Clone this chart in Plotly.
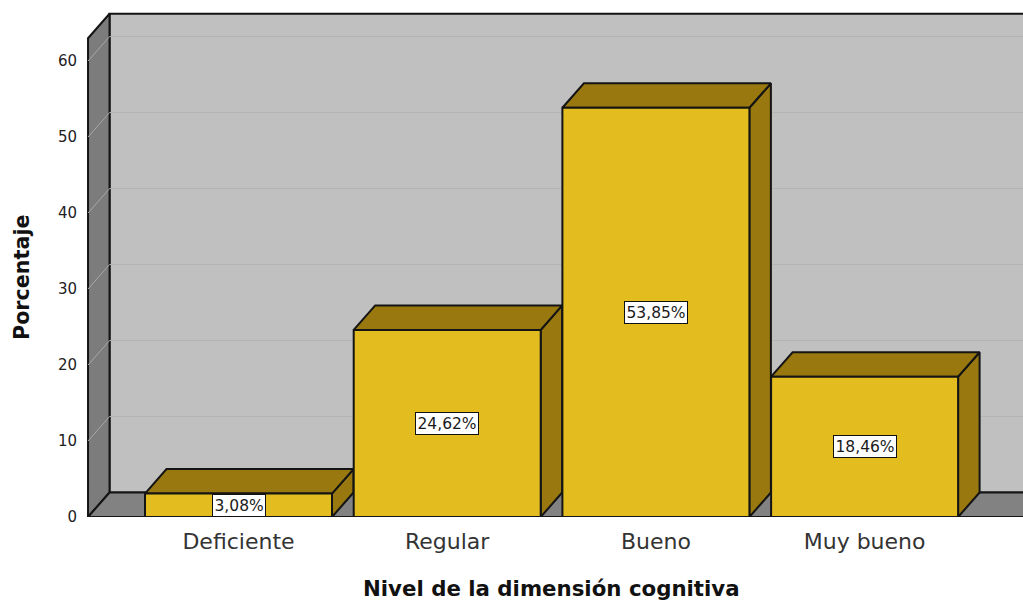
import plotly.graph_objects as go

# Data
categories = ["Deficiente", "Regular", "Bueno", "Muy bueno"]
percentages = [3.08, 24.62, 53.85, 18.46]
y_ticks = [0, 10, 20, 30, 40, 50, 60]

# Geometry of the pseudo-3D frame (axis units)
HALF_W = 0.448        # half width of a bar front face
DX = 0.103            # depth offset along x
DY = 3.22             # depth offset along y
WALL_X = -0.721       # front edge of the left side wall
WALL_TOP = 63.0       # height of the walls (front plane)
FAR_X = 4.2           # walls / floor run past the right edge
X_RANGE = [-0.7595, 3.759]
Y_RANGE = [0, 68.03]

FRONT = "#E3BC1F"
SHADE = "#98780F"
EDGE = "#141414"
FONT = "DejaVu Sans, Liberation Sans, Arial"

# Plot area in pixels (used to place the axis titles)
PL, PR, PB = 80, 1023, 517

fig = go.Figure()


def poly(xs, ys, fill, line_color=EDGE, width=2):
    fig.add_trace(go.Scatter(
        x=xs + [xs[0]], y=ys + [ys[0]], mode="lines", fill="toself",
        fillcolor=fill, line=dict(color=line_color, width=width),
        hoverinfo="skip", showlegend=False))


def seg(xs, ys, color, width=1):
    fig.add_trace(go.Scatter(
        x=xs, y=ys, mode="lines", line=dict(color=color, width=width),
        hoverinfo="skip", showlegend=False))


# Back wall
poly([WALL_X + DX, FAR_X, FAR_X, WALL_X + DX],
     [DY, DY, WALL_TOP + DY, WALL_TOP + DY], "#C0C0C0")
# Left side wall
poly([WALL_X, WALL_X, WALL_X + DX, WALL_X + DX],
     [0, WALL_TOP, WALL_TOP + DY, DY], "#7C7C7C")

# Gridlines on the walls
for t in y_ticks[1:]:
    seg([WALL_X + DX, FAR_X], [t + DY, t + DY], "#B4B4B4", 1)
    seg([WALL_X, WALL_X + DX], [t, t + DY], "#A8A8A8", 1)

# Floor
poly([WALL_X, FAR_X, FAR_X + DX, WALL_X + DX], [0, 0, DY, DY], "#828282")

# Bars: side face, top face, front face
for i, v in enumerate(percentages):
    xl, xr = i - HALF_W, i + HALF_W
    poly([xr, xr + DX, xr + DX, xr], [0, DY, v + DY, v], SHADE)
    poly([xl, xr, xr + DX, xl + DX], [v, v, v + DY, v + DY], SHADE)
    poly([xl, xr, xr, xl], [0, 0, v, v], FRONT)
    fig.add_annotation(
        x=i, y=v / 2, text=f"{v:.2f}%".replace(".", ","), showarrow=False,
        font=dict(family=FONT, size=15.5, color="#1a1a1a"),
        bgcolor="white", bordercolor="#111111", borderwidth=1, borderpad=1.5)

# Axis titles
fig.add_annotation(
    x=(551 - PL) / (PR - PL), y=-(588 - PB) / PB, xref="x domain", yref="y domain",
    text="<b>Nivel de la dimensión cognitiva</b>", showarrow=False,
    xanchor="center", yanchor="middle",
    font=dict(family=FONT, size=21.3, color="#111111"))
fig.add_annotation(
    x=-(PL - 22) / (PR - PL), y=(PB - 277) / PB, xref="x domain", yref="y domain",
    text="<b>Porcentaje</b>", textangle=-90, showarrow=False,
    xanchor="center", yanchor="middle",
    font=dict(family=FONT, size=20.7, color="#111111"))

fig.update_layout(
    width=1023, height=601,
    margin=dict(l=PL, r=1023 - PR, t=0, b=601 - PB),
    paper_bgcolor="white", plot_bgcolor="white",
    xaxis=dict(range=X_RANGE, tickvals=list(range(len(categories))), ticktext=categories,
               showgrid=False, zeroline=False, showline=False, ticks="",
               ticklabelstandoff=9,
               tickfont=dict(family=FONT, size=22, color="#333333")),
    yaxis=dict(range=Y_RANGE, tickvals=y_ticks, showgrid=False, zeroline=False,
               showline=False, ticks="", ticklabelstandoff=2,
               tickfont=dict(family=FONT, size=15, color="#222222")),
)

fig.write_html("out.html")
